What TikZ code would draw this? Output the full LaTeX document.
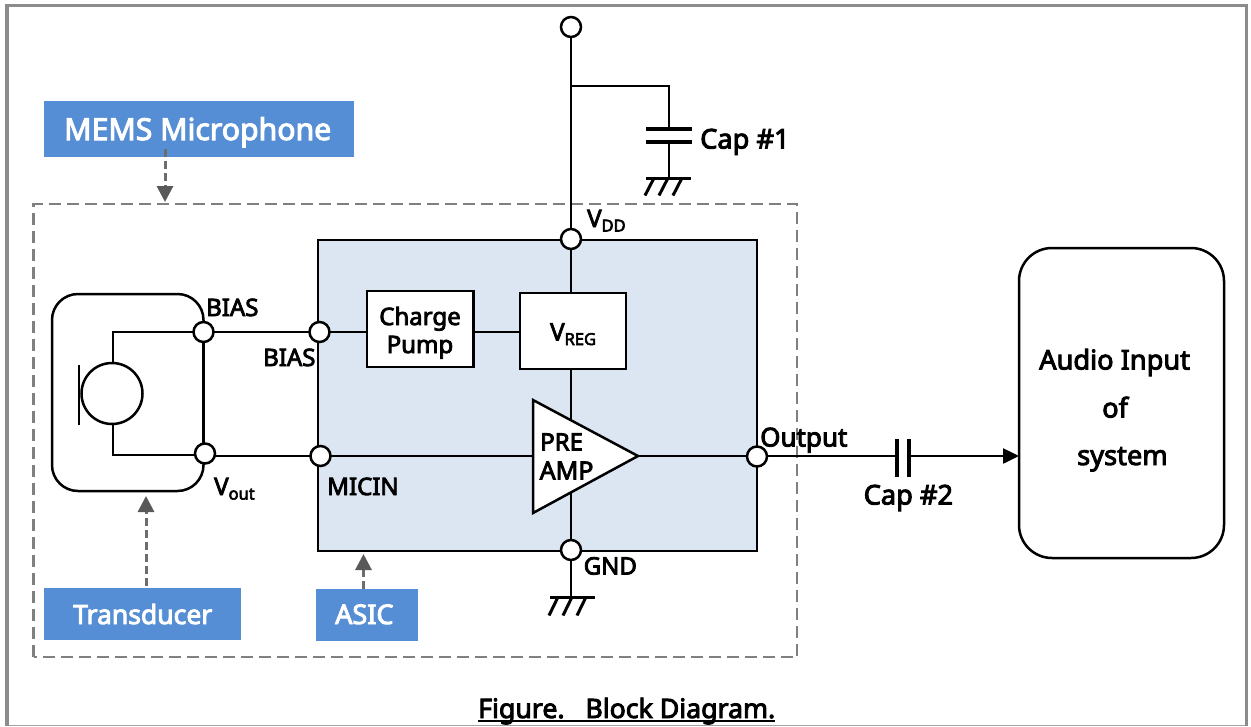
\documentclass[tikz,border=0pt]{standalone}
\usepackage{fontspec}
\setmainfont[AutoFakeBold=3.4]{Noto Sans}
\usetikzlibrary{arrows.meta,positioning}
\definecolor{tagblue}{HTML}{558ED5}
\definecolor{asicfill}{HTML}{DCE6F2}
\definecolor{framegray}{HTML}{8C8C8C}
\definecolor{dashgray}{HTML}{808080}
\definecolor{tipgray}{HTML}{595959}
\newcommand{\lowtxt}[1]{\raisebox{-4.5pt}{\fontsize{16.5}{17}\selectfont #1}}
\tikzset{
  wire/.style={draw=black,line width=2.5pt},
  thickplate/.style={draw=black,line width=4.2pt},
  pin/.style={circle,draw=black,fill=white,line width=2.5pt,minimum size=20pt,inner sep=0pt,outer sep=0pt},
  block/.style={rectangle,draw=black,line width=2.5pt,inner sep=0pt,outer sep=0pt},
  tag/.style={rectangle,fill=tagblue,inner sep=0pt,outer sep=0pt},
  tagtext/.style={anchor=base west,inner sep=0pt,text=white,font=\bfseries},
  lbl/.style={anchor=base west,inner sep=0pt,font=\fontsize{24}{26}\selectfont\bfseries},
  lblc/.style={anchor=base,inner sep=0pt,font=\fontsize{24}{26}\selectfont\bfseries},
  bigl/.style={lbl,font=\fontsize{27.2}{28}\selectfont\bfseries},
  callout/.style={draw=dashgray!85!black,line width=3pt,dash pattern=on 8pt off 4pt,
     -{Triangle[length=16pt,width=16pt,color=tipgray]}},
  gndmark/.style={draw=black,line width=3pt}
}
\begin{document}
\begin{tikzpicture}[x=1pt,y=-1pt]
\useasboundingbox (0,0) rectangle (1251,726);
% page frame
\draw[draw=lightgray!85!black,line width=1.2pt] (7,725.3) -- (1246.5,725.3);
\draw[draw=framegray,line width=3.4pt] (7,726) -- (7,5.5) -- (1246.5,5.5) -- (1246.5,726);
% outer dashed box
\draw[draw=dashgray,line width=2.2pt,dash pattern=on 12pt off 6pt] (33.5,657) rectangle (797,204);
% ASIC
\node[block,fill=asicfill,minimum width=439pt,minimum height=311pt] (asic) at (537.5,395.5) {};
% transducer and system
\node[block,rounded corners=26pt,minimum width=151.5pt,minimum height=197pt] (trans) at (127.75,392.5) {};
\node[block,rounded corners=33pt,minimum width=205pt,minimum height=310pt] (audio) at (1121.5,403) {};
% tags
\node[tag,minimum width=310pt,minimum height=56pt] (tagmems) at (199,129) {};
\node[tag,minimum width=197pt,minimum height=52pt] (tagtrans) at (142.5,614) {};
\node[tag,minimum width=102pt,minimum height=52pt] (tagasic) at (367,615) {};
% inner blocks
\node[block,fill=white,minimum width=106.5pt,minimum height=76pt] (pump) at (420.25,329) {};
\node[block,fill=white,minimum width=106pt,minimum height=76pt] (vreg) at (573,331) {};
% pins
\node[pin] (ptop) at (571,27) {};
\node[pin] (pvdd) at (571,239) {};
\node[pin] (pgnd) at (571,550) {};
\node[pin] (pbiasa) at (203.5,332) {};
\node[pin] (pvout) at (205,453.5) {};
\node[pin] (pbiasb) at (319.5,332) {};
\node[pin] (pmic) at (320.5,456) {};
\node[pin] (pout) at (757,456.5) {};
% microphone
\node[circle,draw=black,line width=2.5pt,minimum size=61pt,inner sep=0pt,outer sep=0pt] (mic) at (112,393.5) {};
\coordinate (plateA) at (79,365);
\coordinate (plateB) at (79,425);
\coordinate (cornerA) at (113,332);
\coordinate (cornerB) at (113,455);
\draw[line width=2.5pt] (plateA) -- (plateB);
\draw[wire,line join=miter] (pbiasa.west) -- (cornerA) -- (cornerA |- mic.north);
\draw[wire,line join=miter] (pvout.west |- cornerB) -- (cornerB) -- (cornerB |- mic.south);
\draw[wire] (pbiasa) -- (pbiasa |- pvout.north);
\draw[wire] (pbiasa) -- (pbiasb);
\draw[wire] (pvout.east |- pmic) -- (pmic);
\draw[wire] (pbiasb) -- (pbiasb -| pump.west);
\draw[wire] (pbiasb -| pump.east) -- (pbiasb -| vreg.west);
% supply
\coordinate (tee) at (571,86);
\coordinate (capelbow) at (669,86);
\coordinate (capa) at (669,129);
\coordinate (capb) at (669,142);
\coordinate (gndb) at (571,597);
\coordinate (gnda) at (669,178);
\draw[wire] (ptop) -- (pvdd);
\draw[wire] (pvdd) -- (vreg.north -| pvdd);
\draw[wire,line join=miter] (tee) -- (capelbow) -- (capa);
\draw[wire] (capb) -- (gnda);
\draw[thickplate] (646,129) -- (692,129);
\draw[thickplate] (646,142) -- (692,142);
\draw[wire] (pgnd) -- (gndb);
\draw[wire] (vreg.south -| pvdd) -- (pgnd);
% grounds
\draw[gndmark] (550,597) -- (595,597);
\draw[gndmark] (558,597) -- (549,615.5) (572,597) -- (563,615.5) (586,597) -- (577,615.5);
\draw[gndmark] (646,178) -- (691,178);
\draw[gndmark] (654,178) -- (645,195.5) (668,178) -- (659,195.5) (682,178) -- (673,195.5);
% amplifier
\coordinate (ampin) at (533,456);
\coordinate (amptip) at (638,456);
\draw[wire] (pmic) -- (ampin);
\draw[wire] (amptip) -- (amptip -| pout.west);
\draw[wire,fill=white,line join=miter] (533,400) -- (amptip) -- (533,513) -- cycle;
% output
\coordinate (caporig) at (897,456);
\coordinate (capdest) at (909,456);
\draw[wire] (pout.east |- caporig) -- (caporig);
\draw[thickplate] (897,439) -- (897,477);
\draw[thickplate] (909,439) -- (909,477);
\draw[wire,-{Triangle[length=16pt,width=15pt]}] (capdest) -- (capdest -| audio.west);
% callouts
\coordinate (calloutA) at (165,149);
\coordinate (calloutAe) at (165,202);
\coordinate (calloutB) at (146,586);
\coordinate (calloutBe) at (146,496);
\coordinate (calloutC) at (363.5,589);
\coordinate (calloutCe) at (363.5,554);
\node[tagtext,font=\fontsize{30.2}{32}\selectfont\bfseries] (tmems) at (64,140) {MEMS Microphone};
\draw[callout] (calloutA) -- (calloutAe);
\draw[callout] (calloutB) -- (calloutBe);
\draw[callout] (calloutC) -- (calloutCe);
\node[tagtext,font=\fontsize{26.5}{28}\selectfont\bfseries] (ttrans) at (73,624) {Transducer};
\node[tagtext,font=\fontsize{27}{28}\selectfont\bfseries] (tasic) at (335,624) {ASIC};
% labels
\node[lbl] (lbiasa) at (206,316) {BIAS};
\node[lbl] (lbiasb) at (263,366) {BIAS};
\node[lbl] (lvout) at (214,495) {V\lowtxt{out}};
\node[lbl] (lmic) at (327,495) {MICIN};
\node[lblc] (lcharge) at (420,325) {Charge};
\node[lblc] (lpump) at (420,353) {Pump};
\node[lbl] (lvreg) at (550,340.5) {V\lowtxt{REG}};
\node[lbl] (lvdd) at (587,227) {V\lowtxt{DD}};
\node[lbl] (lpre) at (540,450.5) {PRE};
\node[lbl,font=\fontsize{25}{26}\selectfont\bfseries] (lamp) at (539.5,479.5) {AMP};
\node[lbl] (lgnd) at (583.5,574.5) {GND};
\node[lbl,font=\fontsize{26}{27}\selectfont\bfseries] (loutput) at (760,446.5) {Output};
\node[bigl] (lcapa) at (700,148.5) {Cap \#1};
\node[bigl] (lcapb) at (863.5,504.5) {Cap \#2};
\node[bigl] (laudio) at (1039,369.5) {Audio Input};
\node[bigl] (lof) at (1102,417.5) {of};
\node[bigl] (lsystem) at (1077,465) {system};
\node[bigl,font=\fontsize{26.7}{28}\selectfont\bfseries] (lfig) at (478,718) {Figure.\ \ \ Block Diagram.};
\draw[line width=1.8pt] ([yshift=-2.7pt]lfig.base west) -- ([yshift=-2.7pt]lfig.base east);
\end{tikzpicture}
\end{document}
